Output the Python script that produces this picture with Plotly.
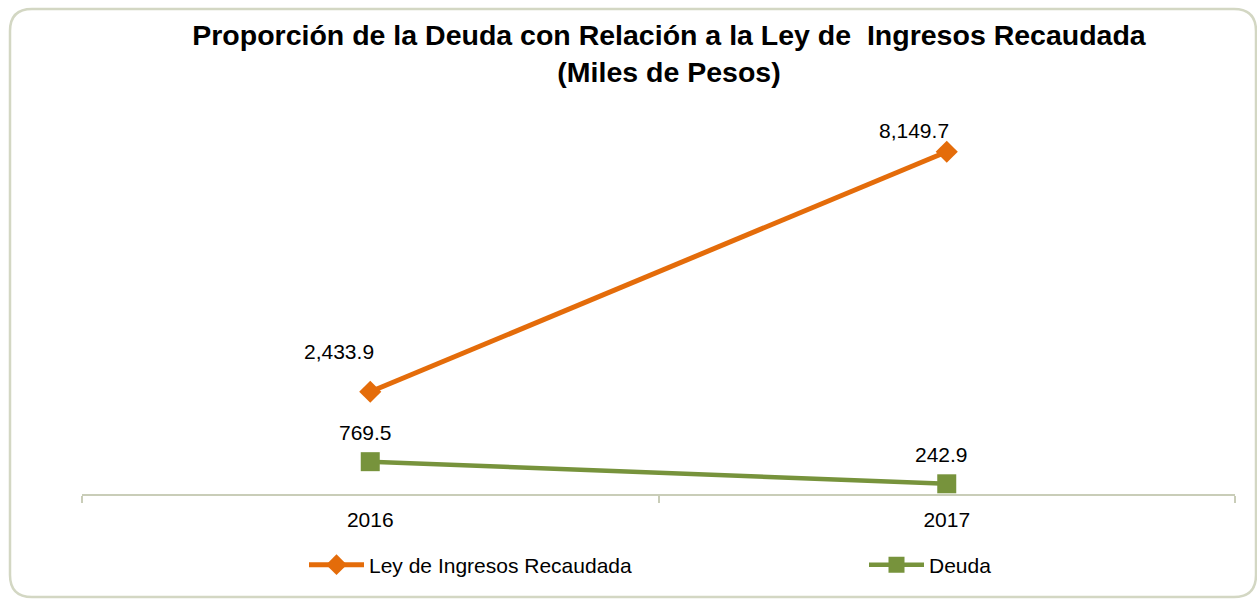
import plotly.graph_objects as go

years = ["2016", "2017"]
ley_ingresos = [2433.9, 8149.7]
deuda = [769.5, 242.9]
ley_labels = ["2,433.9", "8,149.7"]
deuda_labels = ["769.5", "242.9"]

W, H = 1257, 599
L, R, T, B = 82, 22, 74, 105
pw, ph = W - L - R, H - T - B

def px(x):
    return (x - L) / pw

def py(y):
    return (H - B - y) / ph

ORANGE = "#E46C0A"
GREEN = "#77933C"
FONT = "Liberation Sans, Arial, sans-serif"
FS = 21

fig = go.Figure()
fig.add_trace(go.Scatter(
    x=years, y=ley_ingresos, mode="lines+markers", name="Ley de Ingresos Recaudada",
    line=dict(color=ORANGE, width=5),
    marker=dict(symbol="diamond", size=17, color=ORANGE),
    legend="legend",
))
fig.add_trace(go.Scatter(
    x=years, y=deuda, mode="lines+markers", name="Deuda",
    line=dict(color=GREEN, width=4.5),
    marker=dict(symbol="square", size=19, color=GREEN),
    legend="legend2",
))

annotations = []
for i, (y, t, dx, dy) in enumerate(zip(ley_ingresos, ley_labels, [-31, -33], [40, 21])):
    annotations.append(dict(x=i, y=y, text=t, showarrow=False, xshift=dx, yshift=dy,
                            font=dict(family=FONT, size=FS, color="black")))
for i, (y, t) in enumerate(zip(deuda, deuda_labels)):
    annotations.append(dict(x=i, y=y, text=t, showarrow=False, xshift=-5, yshift=29,
                            font=dict(family=FONT, size=FS, color="black")))

# rounded border
x0, x1, y0, y1, r = 10, 1256, 9, 597, 22
path = (f"M {px(x0+r)},{py(y0)} L {px(x1-r)},{py(y0)} Q {px(x1)},{py(y0)} {px(x1)},{py(y0+r)} "
        f"L {px(x1)},{py(y1-r)} Q {px(x1)},{py(y1)} {px(x1-r)},{py(y1)} "
        f"L {px(x0+r)},{py(y1)} Q {px(x0)},{py(y1)} {px(x0)},{py(y1-r)} "
        f"L {px(x0)},{py(y0+r)} Q {px(x0)},{py(y0)} {px(x0+r)},{py(y0)} Z")

legend_common = dict(orientation="h", xanchor="left", y=py(565), yanchor="middle",
                     itemwidth=55, font=dict(family=FONT, size=FS), bgcolor="rgba(0,0,0,0)")

fig.update_layout(
    width=W, height=H,
    margin=dict(l=L, r=R, t=T, b=B),
    paper_bgcolor="white", plot_bgcolor="white",
    font=dict(family=FONT, size=FS, color="black"),
    title=dict(
        text="<b>Proporción de la Deuda con Relación a la Ley de  Ingresos Recaudada<br>(Miles de Pesos)</b>",
        x=669 / W, xanchor="center", y=1 - 45 / H, yanchor="top",
        font=dict(family=FONT, size=28.5, color="black"),
    ),
    xaxis=dict(
        type="category", range=[-0.5, 1.5], showline=True, linecolor="#C9CDB8", linewidth=2,
        ticks="outside", tickson="boundaries", ticklen=7, tickcolor="#C9CDB8", tickwidth=2,
        showgrid=False, zeroline=False, tickfont=dict(size=FS), ticklabelstandoff=6,
    ),
    yaxis=dict(range=[0, 10000], visible=False, showgrid=False, zeroline=False),
    showlegend=True,
    legend=dict(x=px(304), **legend_common),
    legend2=dict(x=px(864), **legend_common),
    annotations=annotations,
    shapes=[dict(type="path", path=path, xref="paper", yref="paper",
                 line=dict(color="#D3D7C3", width=2.5), layer="below")],
)

fig.write_html("out.html", config={"displayModeBar": False},
               post_script="document.body.style.margin='0';document.body.style.overflow='hidden';")
